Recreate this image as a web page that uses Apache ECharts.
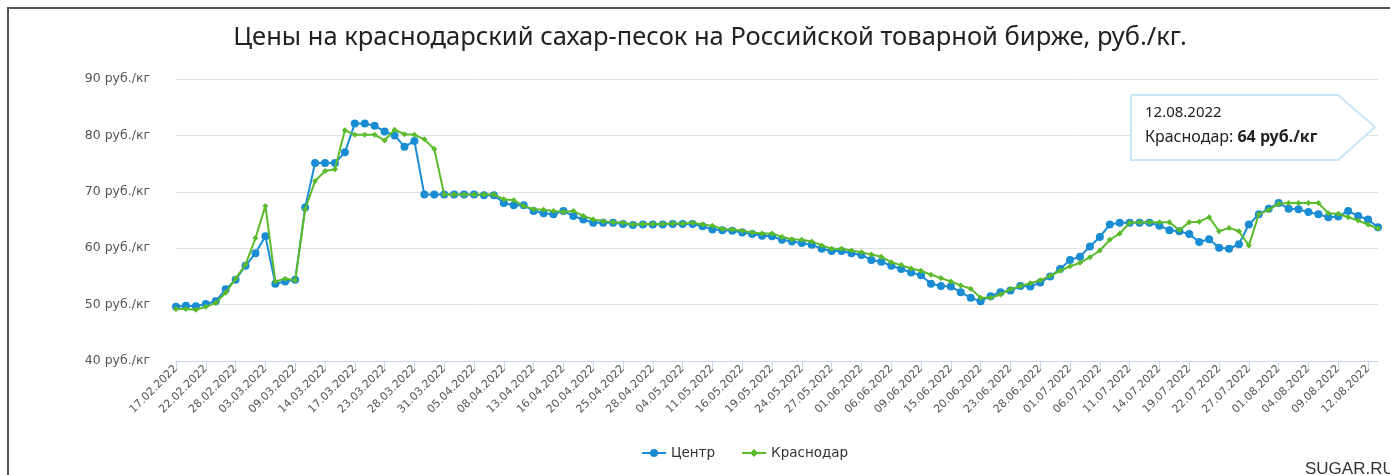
<!DOCTYPE html>
<html>
<head>
<meta charset="utf-8">
<script src="https://cdn.jsdelivr.net/npm/echarts@6/dist/echarts.min.js"></script>
<style>
html, body { margin: 0; padding: 0; background: #fff; }
#chart { width: 1390px; height: 475px; }
</style>
</head>
<body>
<div id="chart"></div>
<script>
// даты торгов (подписи на каждой третьей)
var dates = [
    '17.02.2022', '18.02.2022', '21.02.2022', '22.02.2022', '24.02.2022', '25.02.2022',
    '28.02.2022', '01.03.2022', '02.03.2022', '03.03.2022', '04.03.2022', '07.03.2022',
    '09.03.2022', '10.03.2022', '11.03.2022', '14.03.2022', '15.03.2022', '16.03.2022',
    '17.03.2022', '18.03.2022', '21.03.2022', '23.03.2022', '24.03.2022', '25.03.2022',
    '28.03.2022', '29.03.2022', '30.03.2022', '31.03.2022', '01.04.2022', '04.04.2022',
    '05.04.2022', '06.04.2022', '07.04.2022', '08.04.2022', '11.04.2022', '12.04.2022',
    '13.04.2022', '14.04.2022', '15.04.2022', '16.04.2022', '18.04.2022', '19.04.2022',
    '20.04.2022', '21.04.2022', '22.04.2022', '25.04.2022', '26.04.2022', '27.04.2022',
    '28.04.2022', '29.04.2022', '03.05.2022', '04.05.2022', '05.05.2022', '06.05.2022',
    '11.05.2022', '12.05.2022', '13.05.2022', '16.05.2022', '17.05.2022', '18.05.2022',
    '19.05.2022', '20.05.2022', '23.05.2022', '24.05.2022', '25.05.2022', '26.05.2022',
    '27.05.2022', '30.05.2022', '31.05.2022', '01.06.2022', '02.06.2022', '03.06.2022',
    '06.06.2022', '07.06.2022', '08.06.2022', '09.06.2022', '10.06.2022', '14.06.2022',
    '15.06.2022', '16.06.2022', '17.06.2022', '20.06.2022', '21.06.2022', '22.06.2022',
    '23.06.2022', '24.06.2022', '27.06.2022', '28.06.2022', '29.06.2022', '30.06.2022',
    '01.07.2022', '04.07.2022', '05.07.2022', '06.07.2022', '07.07.2022', '08.07.2022',
    '11.07.2022', '12.07.2022', '13.07.2022', '14.07.2022', '15.07.2022', '18.07.2022',
    '19.07.2022', '20.07.2022', '21.07.2022', '22.07.2022', '25.07.2022', '26.07.2022',
    '27.07.2022', '28.07.2022', '29.07.2022', '01.08.2022', '02.08.2022', '03.08.2022',
    '04.08.2022', '05.08.2022', '08.08.2022', '09.08.2022', '10.08.2022', '11.08.2022',
    '12.08.2022', '15.08.2022'
];

var centr = [
    49.6, 49.8, 49.7, 50.1, 50.6, 52.7, 54.4, 56.9, 59.1, 62.1,
    53.7, 54.1, 54.4, 67.2, 75.1, 75.1, 75.1, 77.0, 82.1, 82.1,
    81.7, 80.7, 80.0, 78.0, 79.0, 69.5, 69.5, 69.5, 69.5, 69.5,
    69.5, 69.4, 69.4, 68.0, 67.6, 67.6, 66.6, 66.2, 66.0, 66.6,
    65.7, 65.1, 64.5, 64.5, 64.5, 64.3, 64.1, 64.2, 64.2, 64.2,
    64.3, 64.3, 64.3, 63.9, 63.3, 63.2, 63.1, 62.8, 62.5, 62.2,
    62.1, 61.5, 61.2, 60.9, 60.6, 59.9, 59.5, 59.5, 59.1, 58.8,
    57.9, 57.6, 56.9, 56.3, 55.7, 55.2, 53.7, 53.3, 53.2, 52.2,
    51.2, 50.6, 51.5, 52.2, 52.5, 53.3, 53.2, 53.9, 55.0, 56.3,
    57.9, 58.5, 60.3, 62.0, 64.2, 64.5, 64.5, 64.5, 64.5, 64.0,
    63.2, 63.0, 62.5, 61.1, 61.6, 60.1, 59.9, 60.7, 64.2, 66.0,
    67.0, 68.0, 67.0, 66.9, 66.4, 66.0, 65.5, 65.6, 66.6, 65.7,
    65.1, 63.7
];

var krasnodar = [
    49.2, 49.2, 49.1, 49.6, 50.3, 52.1, 54.6, 57.1, 61.8, 67.5,
    54.1, 54.6, 54.3, 66.9, 71.9, 73.7, 74.0, 80.9, 80.1, 80.1,
    80.1, 79.1, 81.0, 80.2, 80.1, 79.3, 77.6, 69.5, 69.5, 69.5,
    69.5, 69.5, 69.5, 68.7, 68.5, 67.5, 66.9, 66.8, 66.6, 66.4,
    66.6, 65.7, 65.1, 64.8, 64.6, 64.5, 64.2, 64.3, 64.3, 64.3,
    64.4, 64.4, 64.5, 64.2, 64.0, 63.4, 63.3, 63.1, 62.8, 62.6,
    62.6, 62.0, 61.6, 61.5, 61.2, 60.5, 59.9, 59.9, 59.6, 59.3,
    58.9, 58.5, 57.5, 57.0, 56.4, 56.0, 55.3, 54.7, 54.1, 53.4,
    52.8, 51.2, 51.2, 51.8, 52.7, 53.3, 53.8, 54.3, 55.1, 56.0,
    56.8, 57.4, 58.4, 59.6, 61.5, 62.6, 64.5, 64.6, 64.6, 64.6,
    64.6, 63.2, 64.6, 64.7, 65.5, 63.0, 63.6, 63.0, 60.5, 66.0,
    66.8, 67.9, 68.0, 68.0, 68.0, 68.0, 66.2, 66.1, 65.5, 64.9,
    64.2, 63.5
];

var seriesNames = ['Центр', 'Краснодар'];
var tipIndex = 120; // подсказка для 12.08.2022

var chart = echarts.init(document.getElementById('chart'));

var option = {
    animation: false,
    title: {
        text: 'Цены на краснодарский сахар-песок на Российской товарной бирже, руб./кг.',
        left: 705,
        top: 20,
        textAlign: 'center',
        textStyle: {
            fontFamily: 'Noto Sans',
            fontSize: 25.5,
            fontWeight: 'normal',
            color: '#222'
        }
    },
    legend: {
        data: seriesNames,
        left: 636,
        top: 441,
        itemWidth: 24,
        itemHeight: 10,
        itemGap: 26,
        textStyle: {
            fontFamily: 'DejaVu Sans',
            fontSize: 13.5,
            color: '#333'
        }
    },
    grid: {
        left: 176,
        right: 12,
        top: 79,
        bottom: 114
    },
    xAxis: {
        type: 'category',
        data: dates,
        boundaryGap: false,
        axisLine: { lineStyle: { color: '#ccd6eb' } },
        axisTick: { interval: 2, length: 10, lineStyle: { color: '#ccd6eb' } },
        axisLabel: {
            interval: 2,
            rotate: 45,
            margin: 6,
            fontFamily: 'DejaVu Sans',
            fontSize: 11,
            color: '#555'
        }
    },
    yAxis: {
        type: 'value',
        min: 40,
        max: 90,
        interval: 10,
        axisLine: { show: false },
        axisTick: { show: false },
        axisLabel: {
            formatter: '{value} руб./кг',
            margin: 26,
            fontFamily: 'DejaVu Sans',
            fontSize: 12.5,
            color: '#555'
        },
        splitLine: { lineStyle: { color: '#e0e0e0', width: 1 } }
    },
    series: [
        {
            name: seriesNames[0],
            type: 'line',
            data: centr,
            symbol: 'circle',
            symbolSize: 8,
            showAllSymbol: true,
            color: '#1a8cd4',
            lineStyle: { width: 2 },
            z: 2
        },
        {
            name: seriesNames[1],
            type: 'line',
            data: krasnodar,
            symbol: 'diamond',
            symbolSize: 6,
            showAllSymbol: true,
            color: '#5bbb2b',
            lineStyle: { width: 2 },
            z: 3
        }
    ],
    graphic: [
        {
            type: 'rect',
            shape: { x: 8, y: 8, width: 1600, height: 700 },
            style: { fill: null, stroke: '#555', lineWidth: 2 },
            silent: true
        },
        {
            type: 'polygon',
            shape: { points: [[1131, 95], [1338, 95], [1375, 127], [1338, 160], [1131, 160]] },
            style: { fill: '#fff', stroke: '#c8e6f8', lineWidth: 2 },
            z: 10
        },
        {
            type: 'text',
            left: 1145,
            top: 100,
            z: 11,
            style: {
                text: dates[tipIndex] + '\n{n|' + seriesNames[1] + ': }{b|' + Math.round(krasnodar[tipIndex]) + ' руб./кг}',
                fontFamily: 'Noto Sans',
                fontSize: 15,
                lineHeight: 25,
                fill: '#222',
                rich: {
                    n: { fontFamily: 'Noto Sans', fontSize: 16, fill: '#222' },
                    b: { fontFamily: 'Noto Sans', fontSize: 16, fontWeight: 'bold', fill: '#222' }
                }
            }
        },
        {
            type: 'text',
            left: 1305,
            top: 461,
            style: {
                text: 'SUGAR.RU',
                fontFamily: 'Liberation Sans',
                fontSize: 17,
                fill: '#333'
            }
        }
    ]
};

chart.setOption(option);
</script>
</body>
</html>
